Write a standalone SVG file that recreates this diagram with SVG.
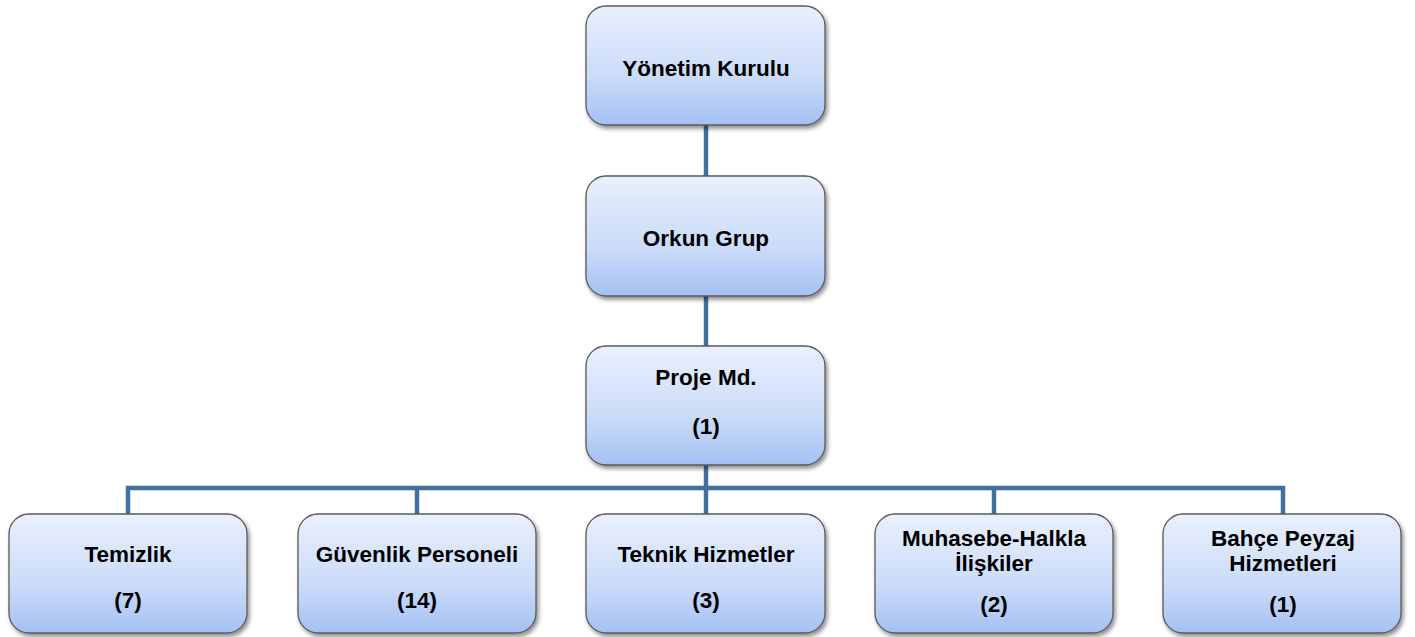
<svg xmlns="http://www.w3.org/2000/svg" width="1415" height="637" viewBox="0 0 1415 637">
<defs>
<linearGradient id="g" x1="0" y1="0" x2="0" y2="1">
<stop offset="0" stop-color="#eaf0fd"/>
<stop offset="0.6" stop-color="#cadbf8"/>
<stop offset="1" stop-color="#a4c1f4"/>
</linearGradient>
<filter id="sh" x="-10%" y="-10%" width="130%" height="130%">
<feGaussianBlur in="SourceAlpha" stdDeviation="2"/>
<feOffset dx="2" dy="3" result="b"/>
<feComponentTransfer><feFuncA type="linear" slope="0.45"/></feComponentTransfer>
<feMerge><feMergeNode/><feMergeNode in="SourceGraphic"/></feMerge>
</filter>
</defs>
<style>
.box{fill:url(#g);stroke:#5a5a5a;stroke-width:1.3;filter:url(#sh)}
.t{font-family:"Liberation Sans",Arial,sans-serif;font-weight:bold;font-size:22.5px;fill:#000;text-anchor:middle}
.c{fill:none;stroke:#41709f;stroke-width:4.5}
</style>
<rect width="1415" height="637" fill="#fff"/>
<g id="connectors">
<line class="c" x1="706" y1="125" x2="706" y2="176"/>
<line class="c" x1="706" y1="296" x2="706" y2="346"/>
<line class="c" x1="706" y1="465" x2="706" y2="514"/>
<polyline class="c" points="128,514 128,488 1283,488 1283,514"/>
<line class="c" x1="417" y1="488" x2="417" y2="514"/>
<line class="c" x1="994" y1="488" x2="994" y2="514"/>
</g>
<g id="n1"><rect class="box" x="586" y="6" width="239" height="119" rx="20"/><text class="t" x="706" y="76">Yönetim Kurulu</text></g>
<g id="n2"><rect class="box" x="586" y="176" width="239" height="120" rx="20"/><text class="t" x="706" y="246">Orkun Grup</text></g>
<g id="n3"><rect class="box" x="586" y="346" width="239" height="119" rx="20"/><text class="t" x="706" y="385">Proje Md.</text><text class="t" x="706" y="434">(1)</text></g>
<g id="n4"><rect class="box" x="9" y="514" width="238" height="119" rx="20"/><text class="t" x="128" y="562">Temizlik</text><text class="t" x="128" y="608">(7)</text></g>
<g id="n5"><rect class="box" x="298" y="514" width="238" height="119" rx="20"/><text class="t" x="417" y="562">Güvenlik Personeli</text><text class="t" x="417" y="608">(14)</text></g>
<g id="n6"><rect class="box" x="586" y="514" width="239" height="119" rx="20"/><text class="t" x="706" y="562">Teknik Hizmetler</text><text class="t" x="706" y="608">(3)</text></g>
<g id="n7"><rect class="box" x="875" y="514" width="238" height="119" rx="20"/><text class="t" x="994" y="546">Muhasebe-Halkla</text><text class="t" x="994" y="571">İlişkiler</text><text class="t" x="994" y="612">(2)</text></g>
<g id="n8"><rect class="box" x="1163" y="514" width="238" height="119" rx="20"/><text class="t" x="1283" y="546">Bahçe Peyzaj</text><text class="t" x="1283" y="571">Hizmetleri</text><text class="t" x="1283" y="612">(1)</text></g>
</svg>
